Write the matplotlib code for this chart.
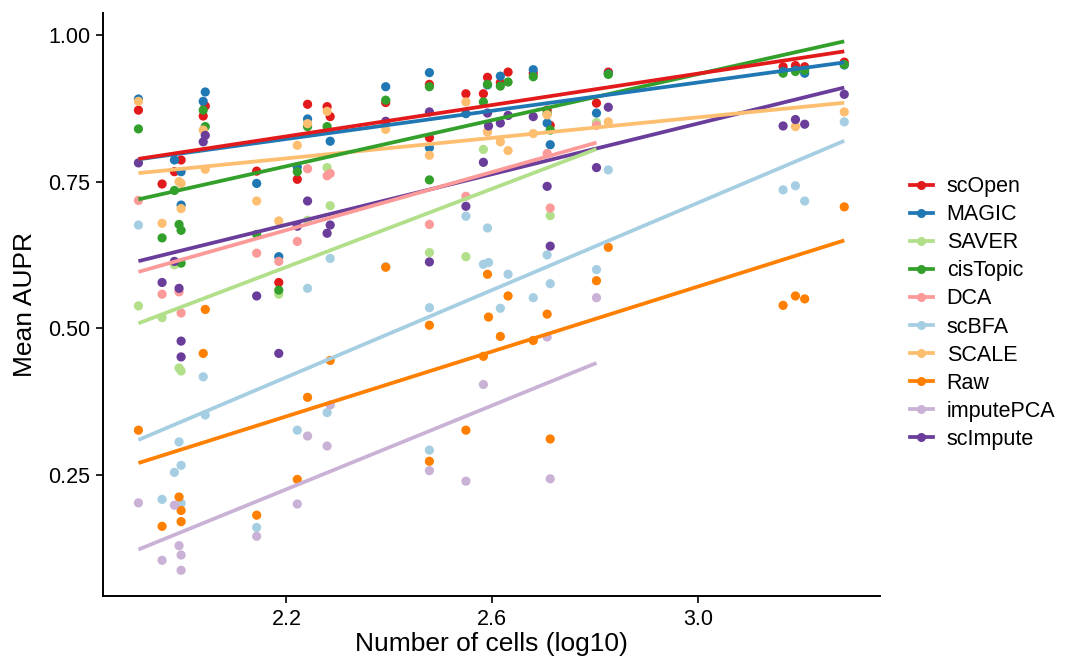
import numpy as np
import matplotlib
matplotlib.use("Agg")
import matplotlib.pyplot as plt
from matplotlib.lines import Line2D

plt.rcParams['font.family'] = ['Liberation Sans', 'DejaVu Sans']

methods = ["scOpen", "MAGIC", "SAVER", "cisTopic", "DCA", "scBFA", "SCALE", "Raw", "imputePCA", "scImpute"]
colors = ["#E31A1C", "#1F78B4", "#B2DF8A", "#33A02C", "#FB9A99", "#A6CEE3", "#FDBF6F", "#FF7F00", "#CAB2D6", "#6A3D9A"]

scopen_x = [1.912, 1.958, 1.982, 1.995, 2.038, 2.042, 2.142, 2.185, 2.221, 2.241, 2.279, 2.285, 2.393, 2.478, 2.478,
            2.549, 2.583, 2.591, 2.616, 2.631, 2.680, 2.707, 2.713, 2.803, 2.826, 3.166, 3.190, 3.208, 3.285]
scopen_y = [0.872, 0.746, 0.767, 0.787, 0.862, 0.879, 0.768, 0.578, 0.754, 0.882, 0.878, 0.861, 0.885, 0.916, 0.825,
            0.900, 0.900, 0.928, 0.919, 0.937, 0.935, 0.872, 0.846, 0.884, 0.937, 0.946, 0.948, 0.946, 0.954]

magic_x = [1.912, 1.982, 1.995, 1.995, 2.038, 2.042, 2.142, 2.185, 2.221, 2.241, 2.285, 2.393, 2.478, 2.478, 2.549,
           2.591, 2.616, 2.680, 2.707, 2.713, 2.803, 2.826, 3.166, 3.190, 3.208, 3.285]
magic_y = [0.891, 0.787, 0.767, 0.710, 0.887, 0.903, 0.747, 0.622, 0.775, 0.857, 0.819, 0.912, 0.936, 0.808, 0.866,
           0.915, 0.930, 0.941, 0.850, 0.813, 0.867, 0.934, 0.938, 0.940, 0.935, 0.949]

saver_x = [1.912, 1.958, 1.982, 1.991, 1.995, 2.185, 2.241, 2.279, 2.285, 2.478, 2.549, 2.583, 2.713, 2.803]
saver_y = [0.538, 0.518, 0.608, 0.432, 0.427, 0.558, 0.684, 0.774, 0.709, 0.629, 0.622, 0.805, 0.692, 0.851]

cistopic_x = [1.912, 1.958, 1.982, 1.991, 1.995, 1.995, 2.038, 2.042, 2.142, 2.185, 2.221, 2.241, 2.279, 2.393,
              2.478, 2.478, 2.583, 2.591, 2.616, 2.631, 2.680, 2.707, 2.713, 2.826, 3.166, 3.190, 3.208, 3.285]
cistopic_y = [0.840, 0.654, 0.735, 0.677, 0.667, 0.611, 0.872, 0.844, 0.660, 0.565, 0.767, 0.844, 0.844, 0.889,
              0.912, 0.753, 0.886, 0.916, 0.913, 0.920, 0.929, 0.866, 0.838, 0.933, 0.935, 0.938, 0.940, 0.950]

dca_x = [1.912, 1.958, 1.991, 1.995, 2.142, 2.185, 2.221, 2.241, 2.279, 2.285, 2.478, 2.549, 2.591, 2.707, 2.713, 2.803]
dca_y = [0.718, 0.558, 0.562, 0.526, 0.628, 0.614, 0.648, 0.772, 0.760, 0.764, 0.677, 0.725, 0.835, 0.798, 0.705, 0.846]

scbfa_x = [1.912, 1.958, 1.982, 1.991, 1.995, 1.995, 2.038, 2.042, 2.142, 2.221, 2.241, 2.279, 2.285, 2.393, 2.478,
           2.478, 2.549, 2.583, 2.591, 2.593, 2.616, 2.631, 2.680, 2.707, 2.713, 2.803, 2.826, 3.166, 3.190, 3.208, 3.285]
scbfa_y = [0.676, 0.208, 0.254, 0.306, 0.266, 0.201, 0.417, 0.352, 0.160, 0.326, 0.568, 0.356, 0.619, 0.605, 0.535,
           0.292, 0.691, 0.609, 0.671, 0.612, 0.534, 0.592, 0.552, 0.625, 0.576, 0.600, 0.770, 0.736, 0.743, 0.717, 0.852]

scale_x = [1.912, 1.958, 1.991, 1.995, 1.995, 2.038, 2.042, 2.142, 2.185, 2.221, 2.241, 2.279, 2.393, 2.478, 2.549,
           2.591, 2.616, 2.631, 2.680, 2.707, 2.826, 3.190, 3.285]
scale_y = [0.887, 0.679, 0.750, 0.747, 0.704, 0.838, 0.771, 0.717, 0.683, 0.812, 0.849, 0.870, 0.839, 0.795, 0.886,
           0.835, 0.818, 0.803, 0.832, 0.864, 0.852, 0.844, 0.869]

raw_x = [1.912, 1.958, 1.991, 1.995, 1.995, 2.038, 2.042, 2.142, 2.221, 2.241, 2.285, 2.393, 2.478, 2.478, 2.549,
         2.583, 2.591, 2.593, 2.616, 2.631, 2.680, 2.707, 2.713, 2.803, 2.826, 3.166, 3.190, 3.208, 3.285]
raw_y = [0.326, 0.162, 0.212, 0.189, 0.170, 0.457, 0.532, 0.181, 0.242, 0.382, 0.445, 0.604, 0.505, 0.273, 0.326,
         0.452, 0.592, 0.519, 0.486, 0.555, 0.479, 0.524, 0.311, 0.581, 0.638, 0.539, 0.555, 0.550, 0.707]

imputepca_x = [1.912, 1.958, 1.982, 1.991, 1.995, 1.995, 2.142, 2.221, 2.241, 2.279, 2.285, 2.478, 2.549, 2.583,
               2.707, 2.713, 2.803]
imputepca_y = [0.202, 0.104, 0.198, 0.129, 0.113, 0.087, 0.145, 0.200, 0.316, 0.299, 0.369, 0.257, 0.239, 0.404,
               0.485, 0.243, 0.552]

scimpute_x = [1.912, 1.958, 1.982, 1.991, 1.995, 1.995, 2.038, 2.042, 2.142, 2.185, 2.221, 2.241, 2.279, 2.285,
              2.393, 2.478, 2.478, 2.549, 2.583, 2.591, 2.593, 2.616, 2.631, 2.680, 2.707, 2.713, 2.803, 2.826,
              3.166, 3.190, 3.208, 3.285]
scimpute_y = [0.782, 0.578, 0.614, 0.568, 0.478, 0.451, 0.818, 0.829, 0.555, 0.457, 0.674, 0.717, 0.662, 0.676,
              0.853, 0.869, 0.613, 0.708, 0.783, 0.867, 0.845, 0.850, 0.863, 0.861, 0.742, 0.640, 0.774, 0.877,
              0.845, 0.856, 0.848, 0.899]

xs = [scopen_x, magic_x, saver_x, cistopic_x, dca_x, scbfa_x, scale_x, raw_x, imputepca_x, scimpute_x]
ys = [scopen_y, magic_y, saver_y, cistopic_y, dca_y, scbfa_y, scale_y, raw_y, imputepca_y, scimpute_y]

x_ticks = [2.2, 2.6, 3.0]
y_ticks = [0.25, 0.50, 0.75, 1.00]

fig = plt.figure(figsize=(10.67, 6.59), dpi=100)
ax = fig.add_axes([0.0965, 0.0955, 0.728, 0.885])

for x, y, c in zip(xs, ys, colors):
    ax.scatter(x, y, s=44, color=c, edgecolors='none', zorder=2)

for x, y, c in list(zip(xs, ys, colors))[::-1]:
    x = np.asarray(x); y = np.asarray(y)
    b, a = np.polyfit(x, y, 1)
    xx = np.array([x.min(), x.max()])
    ax.plot(xx, a + b * xx, color=c, lw=2.7, solid_capstyle='butt', zorder=3)

ax.set_xlim(1.843, 3.354)
ax.set_ylim(0.043, 1.038)
ax.set_xticks(x_ticks)
ax.set_xticklabels([f"{t:.1f}" for t in x_ticks])
ax.set_yticks(y_ticks)
ax.set_yticklabels([f"{t:.2f}" for t in y_ticks])
for s in ['top', 'right']:
    ax.spines[s].set_visible(False)
for s in ['left', 'bottom']:
    ax.spines[s].set_linewidth(1.4)
ax.tick_params(axis='both', length=5, width=1.2, labelsize=15.5, colors='black', pad=4)
ax.set_xlabel("Number of cells (log10)", fontsize=19, labelpad=2)
ax.set_ylabel("Mean AUPR", fontsize=19, labelpad=8)

handles = [Line2D([0], [0], color=c, lw=2.7, marker='o', markersize=6.5, markeredgewidth=0) for c in colors]
leg = fig.legend(handles, methods, loc='center left', bbox_to_anchor=(0.853, 0.525), frameon=False,
                 fontsize=15.5, handlelength=1.05, handletextpad=0.65, labelspacing=0.33, borderpad=0,
                 borderaxespad=0)

fig.savefig("out.png", dpi=100)
